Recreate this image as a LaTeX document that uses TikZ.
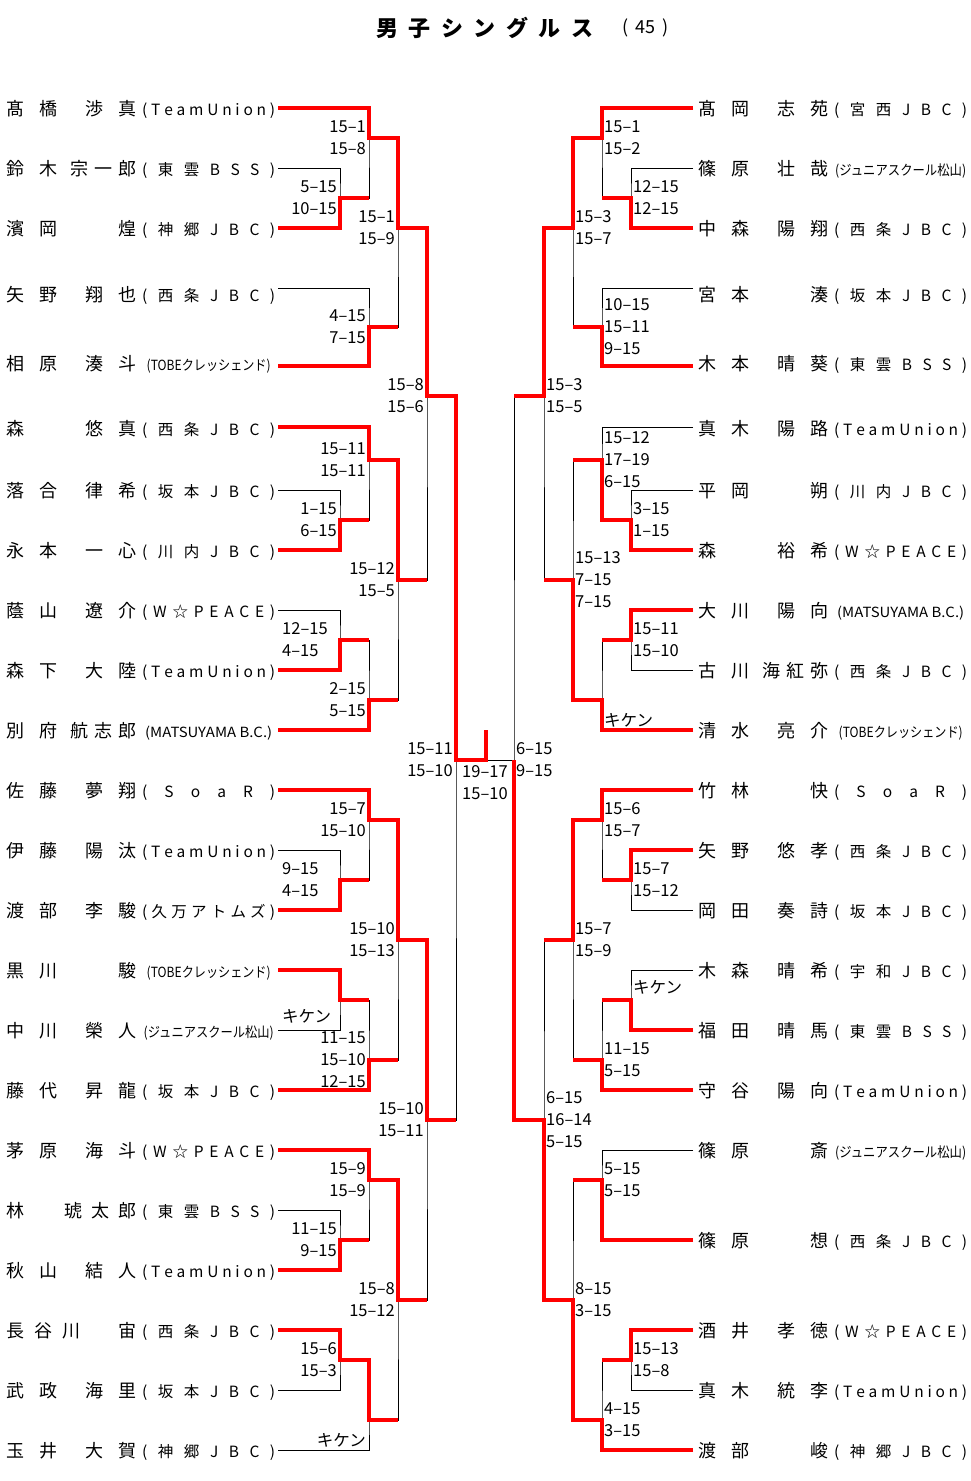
\documentclass[tikz,border=0pt]{standalone}
\usepackage{fontspec}
\usepackage{graphicx}
\setmainfont{Noto Sans CJK JP}
\def\spgobble#1{}
\def\sploop#1#2{#1\ifx\relax#2\expandafter\spgobble\else\hfil\expandafter\sploop\fi{#2}}
\newcommand\spread[2]{\makebox[#1][s]{\sploop#2\relax}}
\newcommand\club[1]{{\fontsize{15.5}{15.5}\selectfont\spread{133pt}{#1}}}
\newcommand\clubsmall[2]{{\fontsize{14}{14}\selectfont\makebox[133pt]{\resizebox{#1}{\height}{#2}}}}
\newcommand\entry[5]{\makebox[130pt]{\spread{#1}{#2}\hfill\spread{#3}{#4}}\hspace{6pt}#5}

\begin{document}
\begin{tikzpicture}[x=1pt,y=-1pt,
  bracket/.style={line width=1pt},
  win/.style={red, line width=3.5pt},
  player/.style={anchor=west, inner sep=0pt, font=\fontsize{18}{18}\selectfont},
  score/.style={inner sep=0pt, font=\fontsize{16.5}{22}\selectfont},
  scoreL/.style={score, anchor=east, align=right},
  scoreR/.style={score, anchor=west, align=left}]
\useasboundingbox (0,0) rectangle (971,1481);

% title
\node[font=\fontsize{22}{22}\selectfont\bfseries] (title) at (485,28) {\spread{217pt}{男子シングルス}};
\node[font=\fontsize{18}{18}\selectfont] (count) at (645.5,28) {\makebox[46pt][s]{(\hfil 45\hfil)}};

% line ends of the players
\foreach \i/\y in {1/108,2/168,3/228,4/288,5/366,6/427,7/490,8/550,9/610,10/670,11/730,12/790,
    13/850,14/910,15/970,16/1030,17/1090,18/1150,19/1210,20/1270,21/1330,22/1390,23/1450}
  \coordinate (L\i) at (278,\y);
\foreach \i/\y in {1/108,2/168,3/228,4/288,5/366,6/427,7/490,8/550,9/610,10/670,11/730,12/790,
    13/850,14/910,15/970,16/1030,17/1090,18/1150,19/1240,20/1330,21/1390,22/1450}
  \coordinate (R\i) at (693,\y);

% match points
\foreach \n/\x/\y in {la1/340/198,la2/369/138,la3/369/327,lb1/398/228,la4/340/520,la5/369/460,
    la6/340/640,la7/369/700,lb2/398/580,lc1/427/396,la8/340/880,la9/369/820,la10/340/1000,
    la11/369/1060,lb3/398/940,la12/340/1240,la13/369/1180,la14/340/1360,la15/369/1420,
    lb4/398/1300,lc2/427/1120,ld1/456/760,
    ra1/631/198,ra2/602/138,ra3/602/327,rb1/573/228,ra4/631/520,ra5/602/460,ra6/631/640,
    ra7/602/700,rb2/573/580,rc1/544/396,ra8/631/880,ra9/602/820,ra10/631/1000,ra11/602/1060,
    rb3/573/940,ra12/602/1180,ra13/631/1360,ra14/602/1420,rb4/573/1300,rc2/544/1120,
    rd1/514/760,fin/486/760,champ/486/730}
  \coordinate (\n) at (\x,\y);

% players, left
\node[player] (nL1) at (6,109) {\entry{51pt}{髙橋}{51pt}{渉真}{\club{(TeamUnion)}}};
\node[player] (nL2) at (6,169) {\entry{51pt}{鈴木}{66pt}{宗一郎}{\club{(東雲BSS)}}};
\node[player] (nL3) at (6,229) {\entry{51pt}{濱岡}{18pt}{煌}{\club{(神郷JBC)}}};
\node[player] (nL4) at (6,295) {\entry{51pt}{矢野}{51pt}{翔也}{\club{(西条JBC)}}};
\node[player] (nL5) at (6,364) {\entry{51pt}{相原}{51pt}{湊斗}{\clubsmall{124pt}{(TOBEクレッシェンド)}}};
\node[player] (nL6) at (6,429) {\entry{18pt}{森}{51pt}{悠真}{\club{(西条JBC)}}};
\node[player] (nL7) at (6,491) {\entry{51pt}{落合}{51pt}{律希}{\club{(坂本JBC)}}};
\node[player] (nL8) at (6,551) {\entry{51pt}{永本}{51pt}{一心}{\club{(川内JBC)}}};
\node[player] (nL9) at (6,611) {\entry{51pt}{蔭山}{51pt}{遼介}{\club{(W☆PEACE)}}};
\node[player] (nL10) at (6,671) {\entry{51pt}{森下}{51pt}{大陸}{\club{(TeamUnion)}}};
\node[player] (nL11) at (6,731) {\entry{51pt}{別府}{66pt}{航志郎}{\clubsmall{127pt}{(MATSUYAMA B.C.)}}};
\node[player] (nL12) at (6,791) {\entry{51pt}{佐藤}{51pt}{夢翔}{\club{(SoaR)}}};
\node[player] (nL13) at (6,851) {\entry{51pt}{伊藤}{51pt}{陽汰}{\club{(TeamUnion)}}};
\node[player] (nL14) at (6,911) {\entry{51pt}{渡部}{51pt}{李駿}{\club{(久万アトムズ)}}};
\node[player] (nL15) at (6,971) {\entry{51pt}{黒川}{18pt}{駿}{\clubsmall{124pt}{(TOBEクレッシェンド)}}};
\node[player] (nL16) at (6,1031) {\entry{51pt}{中川}{51pt}{榮人}{\clubsmall{130pt}{(ジュニアスクール松山)}}};
\node[player] (nL17) at (6,1091) {\entry{51pt}{藤代}{51pt}{昇龍}{\club{(坂本JBC)}}};
\node[player] (nL18) at (6,1151) {\entry{51pt}{茅原}{51pt}{海斗}{\club{(W☆PEACE)}}};
\node[player] (nL19) at (6,1211) {\entry{18pt}{林}{72pt}{琥太郎}{\club{(東雲BSS)}}};
\node[player] (nL20) at (6,1271) {\entry{51pt}{秋山}{51pt}{結人}{\club{(TeamUnion)}}};
\node[player] (nL21) at (6,1331) {\entry{74pt}{長谷川}{18pt}{宙}{\club{(西条JBC)}}};
\node[player] (nL22) at (6,1391) {\entry{51pt}{武政}{51pt}{海里}{\club{(坂本JBC)}}};
\node[player] (nL23) at (6,1451) {\entry{51pt}{玉井}{51pt}{大賀}{\club{(神郷JBC)}}};

% players, right
\node[player] (nR1) at (698,109) {\entry{51pt}{髙岡}{51pt}{志苑}{\club{(宮西JBC)}}};
\node[player] (nR2) at (698,169) {\entry{51pt}{篠原}{51pt}{壮哉}{\clubsmall{131pt}{(ジュニアスクール松山)}}};
\node[player] (nR3) at (698,229) {\entry{51pt}{中森}{51pt}{陽翔}{\club{(西条JBC)}}};
\node[player] (nR4) at (698,295) {\entry{51pt}{宮本}{18pt}{湊}{\club{(坂本JBC)}}};
\node[player] (nR5) at (698,364) {\entry{51pt}{木本}{51pt}{晴葵}{\club{(東雲BSS)}}};
\node[player] (nR6) at (698,429) {\entry{51pt}{真木}{51pt}{陽路}{\club{(TeamUnion)}}};
\node[player] (nR7) at (698,491) {\entry{51pt}{平岡}{18pt}{朔}{\club{(川内JBC)}}};
\node[player] (nR8) at (698,551) {\entry{18pt}{森}{51pt}{裕希}{\club{(W☆PEACE)}}};
\node[player] (nR9) at (698,611) {\entry{51pt}{大川}{51pt}{陽向}{\clubsmall{127pt}{(MATSUYAMA B.C.)}}};
\node[player] (nR10) at (698,671) {\entry{51pt}{古川}{66pt}{海紅弥}{\club{(西条JBC)}}};
\node[player] (nR11) at (698,731) {\entry{51pt}{清水}{51pt}{亮介}{\clubsmall{124pt}{(TOBEクレッシェンド)}}};
\node[player] (nR12) at (698,791) {\entry{51pt}{竹林}{18pt}{快}{\club{(SoaR)}}};
\node[player] (nR13) at (698,851) {\entry{51pt}{矢野}{51pt}{悠孝}{\club{(西条JBC)}}};
\node[player] (nR14) at (698,911) {\entry{51pt}{岡田}{51pt}{奏詩}{\club{(坂本JBC)}}};
\node[player] (nR15) at (698,971) {\entry{51pt}{木森}{51pt}{晴希}{\club{(宇和JBC)}}};
\node[player] (nR16) at (698,1031) {\entry{51pt}{福田}{51pt}{晴馬}{\club{(東雲BSS)}}};
\node[player] (nR17) at (698,1091) {\entry{51pt}{守谷}{51pt}{陽向}{\club{(TeamUnion)}}};
\node[player] (nR18) at (698,1151) {\entry{51pt}{篠原}{18pt}{斎}{\clubsmall{131pt}{(ジュニアスクール松山)}}};
\node[player] (nR19) at (698,1241) {\entry{51pt}{篠原}{18pt}{想}{\club{(西条JBC)}}};
\node[player] (nR20) at (698,1331) {\entry{51pt}{酒井}{51pt}{孝徳}{\club{(W☆PEACE)}}};
\node[player] (nR21) at (698,1391) {\entry{51pt}{真木}{51pt}{統李}{\club{(TeamUnion)}}};
\node[player] (nR22) at (698,1451) {\entry{51pt}{渡部}{18pt}{峻}{\club{(神郷JBC)}}};

% brackets
\foreach \t/\m/\b in {L2/la1/L3,L1/la2/la1,L4/la3/L5,la2/lb1/la3,L7/la4/L8,L6/la5/la4,
    L9/la6/L10,la6/la7/L11,la5/lb2/la7,lb1/lc1/lb2,L13/la8/L14,L12/la9/la8,L15/la10/L16,
    la10/la11/L17,la9/lb3/la11,L19/la12/L20,L18/la13/la12,L21/la14/L22,la14/la15/L23,
    la13/lb4/la15,lb3/lc2/lb4,lc1/ld1/lc2,
    R2/ra1/R3,R1/ra2/ra1,R4/ra3/R5,ra2/rb1/ra3,R7/ra4/R8,R6/ra5/ra4,R9/ra6/R10,ra6/ra7/R11,
    ra5/rb2/ra7,rb1/rc1/rb2,R13/ra8/R14,R12/ra9/ra8,R15/ra10/R16,ra10/ra11/R17,ra9/rb3/ra11,
    R18/ra12/R19,R20/ra13/R21,ra13/ra14/R22,ra12/rb4/ra14,rb3/rc2/rb4,rc1/rd1/rc2}
  \draw[bracket] (\t) -| (\m) |- (\b);
\draw[bracket] (ld1) -- (rd1);

% winners, left
\draw[win] (L1) -| (la2) -| (lb1) -| (lc1) -| (ld1) -- (fin) -- (champ);
\draw[win] (L3) -| (la1) -- (la1 -| la2);
\draw[win] (L5) -| (la3) -- (la3 -| lb1);
\draw[win] (L6) -| (la5) -| (lb2) -- (lb2 -| lc1);
\draw[win] (L8) -| (la4) -- (la4 -| la5);
\draw[win] (L10) -| (la6) -- (la6 -| la7);
\draw[win] (L11) -| (la7) -- (la7 -| lb2);
\draw[win] (L12) -| (la9) -| (lb3) -| (lc2) -- (lc2 -| ld1);
\draw[win] (L14) -| (la8) -- (la8 -| la9);
\draw[win] (L15) -| (la10) -- (la10 -| la11);
\draw[win] (L17) -| (la11) -- (la11 -| lb3);
\draw[win] (L18) -| (la13) -| (lb4) -- (lb4 -| lc2);
\draw[win] (L20) -| (la12) -- (la12 -| la13);
\draw[win] (L21) -| (la14) -| (la15) -- (la15 -| lb4);

% winners, right
\draw[win] (R1) -| (ra2) -| (rb1) -| (rc1) -- (rc1 -| rd1);
\draw[win] (R3) -| (ra1) -- (ra1 -| ra2);
\draw[win] (R5) -| (ra3) -- (ra3 -| rb1);
\draw[win] (R8) -| (ra4) -| (ra5) -- (ra5 -| rb2);
\draw[win] (R9) -| (ra6) -- (ra6 -| ra7);
\draw[win] (R11) -| (ra7) -| (rb2) -- (rb2 -| rc1);
\draw[win] (R12) -| (ra9) -| (rb3) -- (rb3 -| rc2);
\draw[win] (R13) -| (ra8) -- (ra8 -| ra9);
\draw[win] (R16) -| (ra10) -- (ra10 -| ra11);
\draw[win] (R17) -| (ra11) -- (ra11 -| rb3);
\draw[win] (R19) -| (ra12) -- (ra12 -| rb4);
\draw[win] (R20) -| (ra13) -- (ra13 -| ra14);
\draw[win] (R22) -| (ra14) -| (rb4) -| (rc2) -| (rd1);

% scores, left
\node[scoreL] (sla1) at ([xshift=-3pt]la1) {5–15\\10–15};
\node[scoreL] (sla2) at ([xshift=-3pt]la2) {15–1\\15–8};
\node[scoreL] (sla3) at ([xshift=-3pt]la3) {4–15\\7–15};
\node[scoreL] (slb1) at ([xshift=-3pt]lb1) {15–1\\15–9};
\node[scoreL] (sla4) at ([xshift=-3pt]la4) {1–15\\6–15};
\node[scoreL] (sla5) at ([xshift=-3pt]la5) {15–11\\15–11};
\node[scoreR] (sla6) at ([xshift=-58pt]la6) {12–15\\4–15};
\node[scoreL] (sla7) at ([xshift=-3pt]la7) {2–15\\5–15};
\node[scoreL] (slb2) at ([xshift=-3pt]lb2) {15–12\\15–5};
\node[scoreL] (slc1) at ([xshift=-3pt]lc1) {15–8\\15–6};
\node[scoreR] (sla8) at ([xshift=-58pt]la8) {9–15\\4–15};
\node[scoreL] (sla9) at ([xshift=-3pt]la9) {15–7\\15–10};
\node[scoreR] (sla10) at ([shift={(-58,16)}]la10) {キケン};
\node[scoreL] (sla11) at ([xshift=-3pt]la11) {11–15\\15–10\\12–15};
\node[scoreL] (slb3) at ([xshift=-3pt]lb3) {15–10\\15–13};
\node[scoreL] (sla12) at ([xshift=-3pt]la12) {11–15\\9–15};
\node[scoreL] (sla13) at ([xshift=-3pt]la13) {15–9\\15–9};
\node[scoreL] (sla14) at ([xshift=-3pt]la14) {15–6\\15–3};
\node[scoreL] (sla15) at ([shift={(-3,20)}]la15) {キケン};
\node[scoreL] (slb4) at ([xshift=-3pt]lb4) {15–8\\15–12};
\node[scoreL] (slc2) at ([xshift=-3pt]lc2) {15–10\\15–11};
\node[scoreL] (sld1) at ([xshift=-3pt]ld1) {15–11\\15–10};
\node[scoreR] (sfin) at ([shift={(6,23)}]ld1) {19–17\\15–10};

% scores, right
\node[scoreR] (sra1) at ([xshift=2pt]ra1) {12–15\\12–15};
\node[scoreR] (sra2) at ([xshift=2pt]ra2) {15–1\\15–2};
\node[scoreR] (sra3) at ([xshift=2pt]ra3) {10–15\\15–11\\9–15};
\node[scoreR] (srb1) at ([xshift=2pt]rb1) {15–3\\15–7};
\node[scoreR] (sra4) at ([xshift=2pt]ra4) {3–15\\1–15};
\node[scoreR] (sra5) at ([xshift=2pt]ra5) {15–12\\17–19\\6–15};
\node[scoreR] (sra6) at ([xshift=2pt]ra6) {15–11\\15–10};
\node[scoreR] (sra7) at ([shift={(2,20)}]ra7) {キケン};
\node[scoreR] (srb2) at ([xshift=2pt]rb2) {15–13\\7–15\\7–15};
\node[scoreR] (src1) at ([xshift=2pt]rc1) {15–3\\15–5};
\node[scoreR] (sra8) at ([xshift=2pt]ra8) {15–7\\15–12};
\node[scoreR] (sra9) at ([xshift=2pt]ra9) {15–6\\15–7};
\node[scoreR] (sra10) at ([shift={(2,-13)}]ra10) {キケン};
\node[scoreR] (sra11) at ([xshift=2pt]ra11) {11–15\\5–15};
\node[scoreR] (srb3) at ([xshift=2pt]rb3) {15–7\\15–9};
\node[scoreR] (sra12) at ([xshift=2pt]ra12) {5–15\\5–15};
\node[scoreR] (sra13) at ([xshift=2pt]ra13) {15–13\\15–8};
\node[scoreR] (sra14) at ([xshift=2pt]ra14) {4–15\\3–15};
\node[scoreR] (srb4) at ([xshift=2pt]rb4) {8–15\\3–15};
\node[scoreR] (src2) at ([xshift=2pt]rc2) {6–15\\16–14\\5–15};
\node[scoreR] (srd1) at ([xshift=2pt]rd1) {6–15\\9–15};
\end{tikzpicture}
\end{document}
